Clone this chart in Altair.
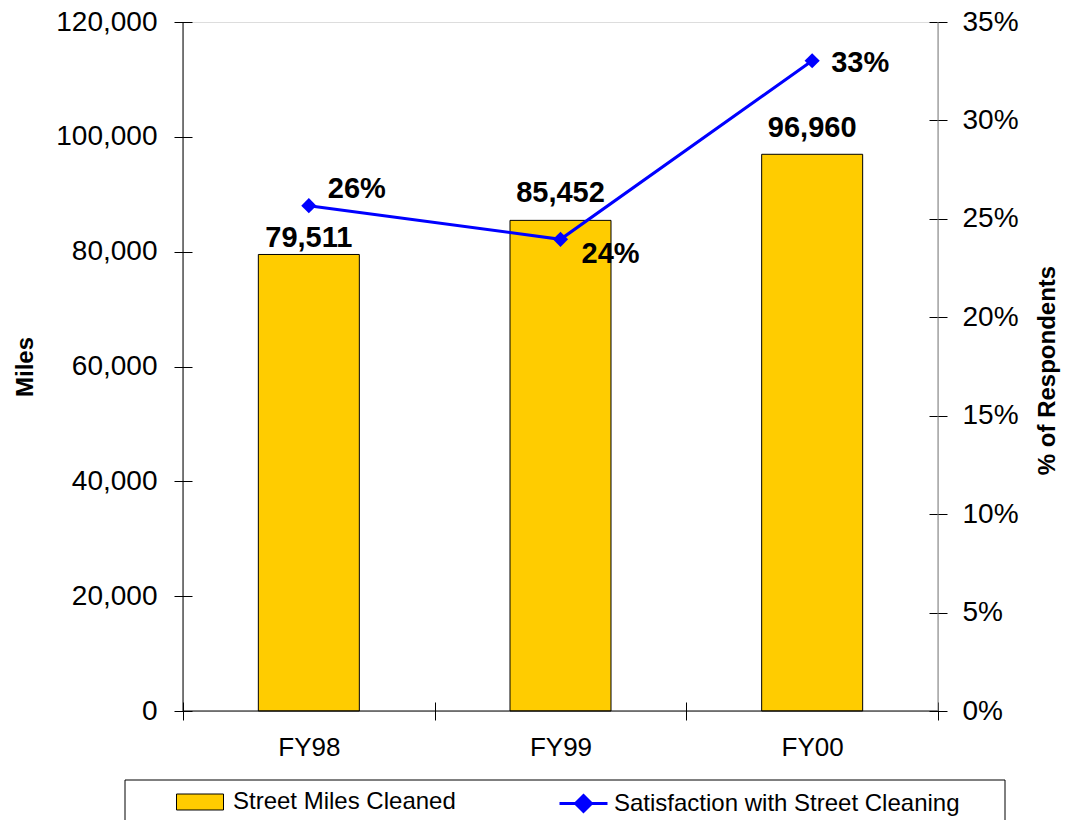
import altair as alt
import pandas as pd

years = ["FY98", "FY99", "FY00"]
miles = [79511, 85452, 96960]
satisfaction = [0.2567, 0.2396, 0.3303]
bar_name = "Street Miles Cleaned"
line_name = "Satisfaction with Street Cleaning"
left_ticks = [0, 20000, 40000, 60000, 80000, 100000, 120000]
right_ticks = [0.0, 0.05, 0.10, 0.15, 0.20, 0.25, 0.30, 0.35]

df = pd.DataFrame({
    "year": years,
    "miles": miles,
    "sat": satisfaction,
    "bar_series": [bar_name] * len(years),
    "line_series": [line_name] * len(years),
})

W, H = 755, 689
FONT = "Liberation Sans"

# label offsets (style only)
bar_label_dy = [-7, -18, -17]
line_label_dxdy = [(19, -8), (21, 24), (19, 11)]

x_enc = alt.X(
    "year:N", sort=years,
    scale=alt.Scale(paddingInner=0, paddingOuter=0),
    axis=alt.Axis(title=None, tickBand="extent", domain=False, tickSize=18, offset=-9,
                  labelPadding=14, labelFontSize=26, labelColor="black", tickColor="black",
                  labelAngle=0, grid=False),
)

y_left = alt.Y(
    "miles:Q",
    scale=alt.Scale(domain=[0, 120000], nice=False),
    axis=alt.Axis(title="Miles", orient="left", values=left_ticks, format=",.0f",
                  domain=False, tickSize=18, offset=-9, labelPadding=17, labelFontSize=28,
                  labelColor="black", tickColor="black", titleFontSize=24, titleFontWeight="bold",
                  titleColor="black", titlePadding=18, grid=False),
)

y_right = alt.Y(
    "sat:Q",
    scale=alt.Scale(domain=[0, 0.35], nice=False),
    axis=alt.Axis(title="% of Respondents", orient="right", values=right_ticks,
                  format=".0%", domain=False, tickSize=18, offset=-9, labelPadding=15,
                  labelFontSize=28, labelColor="black", tickColor="black", titleFontSize=24,
                  titleFontWeight="bold", titleColor="black", titleAngle=270,
                  titleX=118, titleY=348, titleAlign="center", titleBaseline="middle",
                  grid=False),
)

bars = alt.Chart(df).mark_bar(size=101, stroke="black", strokeWidth=1).encode(
    x=x_enc,
    y=y_left,
    fill=alt.Fill(
        "bar_series:N",
        scale=alt.Scale(domain=[bar_name], range=["#FFCC00"]),
        legend=alt.Legend(title=None, orient="none", legendX=-7, legendY=756,
                          symbolType="M-1,-0.34H1V0.34H-1Z", symbolSize=2209,
                          symbolStrokeColor="black", symbolStrokeWidth=1,
                          labelFontSize=24, labelOffset=9, padding=0, labelColor="black",
                          labelLimit=600),
    ),
)

bar_labels = [
    alt.Chart(df).transform_filter(alt.datum.year == yr).mark_text(
        dy=bar_label_dy[i], baseline="alphabetic", align="center", fontSize=29,
        fontWeight="bold", color="black",
    ).encode(x=x_enc, y=y_left, text=alt.Text("miles:Q", format=",.0f"))
    for i, yr in enumerate(years)
]

bar_layer = alt.layer(bars, *bar_labels)

line = alt.Chart(df).mark_line(color="#0000FF", strokeWidth=3).encode(
    x=x_enc,
    y=y_right,
    stroke=alt.Stroke(
        "line_series:N",
        scale=alt.Scale(domain=[line_name], range=["#0000FF"]),
        legend=alt.Legend(title=None, orient="none", legendX=375, legendY=756,
                          symbolType="M-1,0H1M0,-0.33L0.33,0L0,0.33L-0.33,0Z", symbolSize=2304,
                          symbolStrokeWidth=3, symbolFillColor="#0000FF",
                          labelFontSize=24, labelOffset=5, padding=0, labelColor="black",
                          labelLimit=600),
    ),
)

points = alt.Chart(df).mark_point(shape="diamond", filled=True, size=230, color="#0000FF",
                                  opacity=1).encode(x=x_enc, y=y_right)

line_labels = [
    alt.Chart(df).transform_filter(alt.datum.year == yr).mark_text(
        dx=line_label_dxdy[i][0], dy=line_label_dxdy[i][1], baseline="alphabetic", align="left",
        fontSize=29, fontWeight="bold", color="black",
    ).encode(x=x_enc, y=y_right, text=alt.Text("sat:Q", format=".0%"))
    for i, yr in enumerate(years)
]

line_layer = alt.layer(line, points, *line_labels)

frame_df = pd.DataFrame({"k": [0]})
left_dom = alt.Chart(frame_df).mark_rule(color="black", strokeWidth=1).encode(
    x=alt.value(0), y=alt.value(0), y2=alt.value(H))
bottom_dom = alt.Chart(frame_df).mark_rule(color="black", strokeWidth=1).encode(
    x=alt.value(0), x2=alt.value(W), y=alt.value(H))
right_dom = alt.Chart(frame_df).mark_rule(color="#808080", strokeWidth=1).encode(
    x=alt.value(W), y=alt.value(0), y2=alt.value(H))
legend_box = alt.Chart(frame_df).mark_rect(fillOpacity=0, stroke="black", strokeWidth=1).encode(
    x=alt.value(-58), x2=alt.value(822), y=alt.value(758), y2=alt.value(830))

chart = alt.layer(bar_layer, line_layer, left_dom, bottom_dom, right_dom, legend_box).resolve_scale(
    y="independent", fill="independent", stroke="independent"
).properties(
    width=W, height=H,
    padding={"left": 175, "top": 14, "right": 126, "bottom": 110},
    autosize=alt.AutoSizeParams(type="none"),
    background="white",
).configure_view(stroke=None).configure(font=FONT).configure_axis(
    labelFont=FONT, titleFont=FONT
).configure_legend(labelFont=FONT).configure_text(font=FONT)

chart.save("out.html", embed_options={"renderer": "svg", "actions": False})
